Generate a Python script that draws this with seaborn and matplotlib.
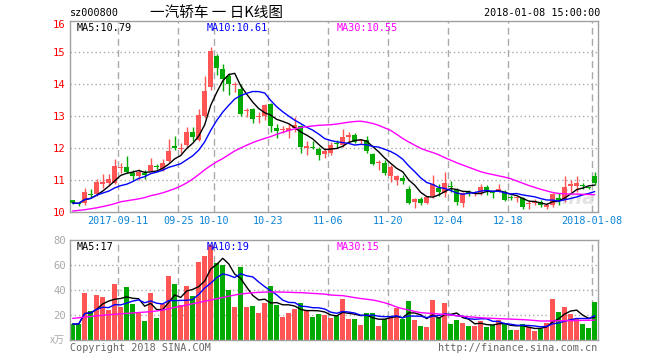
import numpy as np
import pandas as pd
import matplotlib
matplotlib.use("Agg")
import matplotlib.pyplot as plt
import seaborn as sns

# ---------------- data ----------------
opens = [10.37, 10.29, 10.30, 10.58, 10.57, 10.90, 10.91, 10.91, 11.38, 11.42,
         11.24, 11.12, 11.24, 11.30, 11.45, 11.33, 11.60, 12.07, 11.97, 12.10,
         12.52, 12.27, 13.02, 13.93, 14.90, 14.48, 14.26, 13.97, 13.87, 13.17,
         13.23, 12.97, 13.02, 13.38, 12.63, 12.56, 12.55, 12.63, 12.70, 12.02,
         12.05, 11.97, 11.81, 11.87, 12.17, 12.12, 12.37, 12.43, 12.22, 12.26,
         11.82, 11.54, 11.53, 11.14, 11.01, 11.06, 10.73, 10.33, 10.42, 10.30,
         10.50, 10.76, 10.60, 10.81, 10.70, 10.30, 10.62, 10.58, 10.61, 10.80,
         10.62, 10.68, 10.65, 10.47, 10.44, 10.44, 10.27, 10.28, 10.33, 10.18,
         10.23, 10.42, 10.41, 10.82, 10.82, 10.86, 10.77, 11.14]
highs = [10.38, 10.30, 10.76, 10.73, 11.03, 11.20, 11.20, 11.67, 11.55, 11.76,
         11.33, 11.36, 11.32, 11.70, 11.51, 11.66, 12.30, 12.39, 12.18, 12.66,
         12.67, 13.23, 14.26, 15.16, 14.95, 14.64, 14.35, 14.07, 14.01, 13.27,
         13.25, 13.15, 13.38, 13.43, 12.76, 12.70, 12.80, 12.97, 12.73, 12.24,
         12.22, 12.05, 12.00, 12.20, 12.27, 12.62, 12.52, 12.49, 12.30, 12.38,
         11.84, 11.64, 11.63, 11.48, 11.17, 11.17, 10.82, 10.44, 10.47, 10.51,
         11.17, 10.89, 11.26, 10.99, 10.75, 10.62, 10.70, 10.68, 10.87, 10.85,
         10.66, 10.90, 10.70, 10.54, 10.49, 10.49, 10.36, 10.41, 10.39, 10.30,
         10.59, 10.61, 11.13, 11.01, 11.13, 10.91, 10.79, 11.26]
lows = [10.26, 10.21, 10.22, 10.48, 10.50, 10.75, 10.82, 10.90, 11.22, 11.22,
        11.00, 11.02, 11.03, 11.28, 11.34, 11.30, 11.58, 11.95, 11.86, 12.03,
        12.22, 12.22, 12.95, 13.82, 14.29, 13.80, 13.67, 13.77, 13.01, 12.97,
        12.78, 12.80, 12.88, 12.52, 12.31, 12.49, 12.33, 12.52, 11.84, 11.80,
        11.97, 11.65, 11.69, 11.80, 12.00, 12.05, 12.21, 12.18, 12.15, 11.84,
        11.48, 11.32, 11.16, 10.96, 10.86, 10.88, 10.25, 10.12, 10.22, 10.26,
        10.44, 10.52, 10.49, 10.65, 10.23, 10.18, 10.50, 10.52, 10.55, 10.54,
        10.44, 10.64, 10.34, 10.38, 10.33, 10.10, 10.09, 10.23, 10.18, 10.10,
        10.18, 10.23, 10.33, 10.65, 10.64, 10.74, 10.72, 10.85]
closes = [10.29, 10.27, 10.63, 10.55, 10.94, 10.93, 11.03, 11.46, 11.41, 11.27,
          11.12, 11.27, 11.18, 11.48, 11.41, 11.54, 11.92, 12.01, 12.00, 12.51,
          12.35, 13.04, 13.79, 15.04, 14.52, 14.16, 14.02, 14.00, 13.09, 13.21,
          12.92, 13.01, 13.35, 12.71, 12.55, 12.60, 12.65, 12.73, 12.03, 12.06,
          12.01, 11.79, 11.92, 12.12, 12.14, 12.36, 12.39, 12.21, 12.25, 11.92,
          11.51, 11.57, 11.24, 11.42, 11.13, 10.98, 10.30, 10.41, 10.30, 10.47,
          10.89, 10.65, 10.91, 10.79, 10.33, 10.60, 10.60, 10.62, 10.78, 10.67,
          10.60, 10.71, 10.39, 10.45, 10.46, 10.16, 10.29, 10.33, 10.23, 10.23,
          10.57, 10.40, 10.80, 10.87, 10.91, 10.81, 10.75, 10.91]
volumes = [12.8, 12.8, 37.9, 23.2, 36.0, 34.4, 24.3, 45.0, 26.4, 42.4,
           28.8, 22.4, 15.2, 37.6, 17.6, 28.8, 51.2, 44.8, 28.0, 43.2,
           35.2, 62.4, 67.2, 76.0, 61.3, 60.0, 40.0, 26.4, 58.4, 26.4,
           27.2, 21.6, 29.6, 43.2, 28.0, 18.4, 21.6, 24.8, 29.6, 23.2,
           18.4, 20.8, 20.0, 17.9, 19.2, 32.8, 16.8, 16.8, 12.0, 21.6,
           21.6, 11.2, 16.8, 18.4, 25.6, 16.8, 31.2, 16.0, 11.2, 10.4,
           32.0, 17.6, 29.6, 12.8, 16.0, 13.6, 11.2, 11.2, 15.2, 10.4,
           12.0, 16.0, 12.5, 8.0, 8.0, 12.8, 10.1, 7.2, 8.5, 13.9,
           32.8, 22.4, 26.4, 20.5, 17.3, 12.8, 9.6, 30.4]
price_ma30 = [10.04, 10.06, 10.08, 10.11, 10.14, 10.18, 10.22, 10.27, 10.33, 10.36,
              10.39, 10.42, 10.46, 10.52, 10.56, 10.61, 10.67, 10.74, 10.82, 10.92,
              11.04, 11.18, 11.33, 11.46, 11.58, 11.68, 11.80, 11.92, 12.01, 12.10,
              12.18, 12.25, 12.31, 12.37, 12.44, 12.50, 12.56, 12.61, 12.65, 12.68,
              12.70, 12.72, 12.73, 12.74, 12.76, 12.79, 12.82, 12.84, 12.85, 12.82,
              12.78, 12.72, 12.64, 12.56, 12.44, 12.31, 12.20, 12.10, 12.00, 11.93,
              11.87, 11.80, 11.71, 11.63, 11.55, 11.48, 11.41, 11.34, 11.27, 11.22,
              11.18, 11.14, 11.10, 11.05, 10.98, 10.91, 10.84, 10.78, 10.72, 10.67,
              10.62, 10.59, 10.58, 10.57, 10.57, 10.56, 10.56, 10.55]
vol_ma30 = [17.3, 17.8, 18.3, 18.8, 19.3, 19.8, 20.2, 20.6, 21.0, 21.3,
            21.6, 22.0, 22.3, 22.7, 23.2, 24.0, 25.0, 26.0, 27.0, 28.0,
            29.0, 30.0, 31.0, 32.0, 33.0, 34.0, 35.0, 36.0, 36.8, 37.3,
            37.8, 38.1, 38.3, 38.4, 38.4, 38.3, 38.2, 38.0, 37.9, 37.6,
            37.3, 37.0, 36.7, 36.0, 35.7, 35.5, 34.7, 33.9, 33.2, 32.6,
            32.0, 31.0, 29.8, 28.2, 26.4, 25.0, 24.0, 22.8, 21.9, 21.5,
            21.2, 20.8, 20.4, 20.0, 19.5, 19.0, 18.6, 18.2, 17.8, 17.5,
            17.3, 17.1, 16.9, 16.7, 16.5, 16.3, 16.0, 15.6, 15.2, 15.2,
            15.3, 15.4, 15.5, 15.5, 15.6, 15.7, 15.8, 15.9]
date_labels = ["2017-09-11", "09-25", "10-10", "10-23", "11-06", "11-20",
               "12-04", "12-18", "2018-01-08"]
date_index = [8, 18, 24, 33, 43, 53, 63, 73, 87]
price_ticks = [10, 11, 12, 13, 14, 15, 16]
vol_ticks = [20, 40, 60, 80]

# ---------------- style ----------------
sns.set_style("white")
plt.rcParams['font.family'] = ['DejaVu Sans Mono', 'Noto Sans CJK SC']

RED = '#ff5555'
GREEN = '#00aa00'
GRID = '#aaaaaa'
SPINE = '#a0a0a0'
DATE_C = '#0a84d6'

df = pd.DataFrame({'o': opens, 'h': highs, 'l': lows, 'c': closes, 'v': volumes,
                   'ma30': price_ma30, 'vma30': vol_ma30})
df['i'] = np.arange(len(df))
df['up'] = np.where(df['c'] >= df['o'], 'up', 'down')
df['ma5'] = df['c'].rolling(5, min_periods=1).mean()
df['ma10'] = df['c'].rolling(10, min_periods=1).mean()
df['vma5'] = df['v'].rolling(5, min_periods=1).mean()
df['vma10'] = df['v'].rolling(10, min_periods=1).mean()
colors = np.where(df['up'] == 'up', RED, GREEN)

W, H = 660, 360
fig = plt.figure(figsize=(6.6, 3.6), dpi=100)
fig.patch.set_facecolor('white')

def rect(x0, y0, x1, y1):
    return [x0 / W, 1 - y1 / H, (x1 - x0) / W, (y1 - y0) / H]

ax = fig.add_axes(rect(70, 20.5, 597.7, 212.3))
ax2 = fig.add_axes(rect(70, 240, 597.7, 340))
xlim = (-0.45, 87.5)

for a in (ax, ax2):
    a.set_xlim(*xlim)
    for s in a.spines.values():
        s.set_color(SPINE)
        s.set_linewidth(1)
    for di in date_index:
        a.axvline(di - 0.4, color=GRID, lw=1, ls=(0, (5, 3)), zorder=0)
    a.tick_params(length=0)

# ---- price panel ----
ax.set_ylim(10, 16)
for t in price_ticks[1:-1]:
    ax.axhline(t, color=GRID, lw=1, ls=(0, (1, 2)), zorder=0)

ax.vlines(df['i'], df['l'], df['h'], colors=colors, lw=1, zorder=2)
body_lo = np.minimum(df['o'], df['c'])
body_h = np.maximum(np.abs(df['c'] - df['o']), 0.035)
ax.bar(df['i'], body_h, bottom=body_lo, width=0.83, color=colors, lw=0, zorder=3)

sns.lineplot(data=df, x='i', y='ma5', color='black', lw=1, ax=ax, zorder=4)
sns.lineplot(data=df, x='i', y='ma10', color='#0000ff', lw=1, ax=ax, zorder=4)
sns.lineplot(data=df, x='i', y='ma30', color='#ff00ff', lw=1, ax=ax, zorder=4)

ax.set_yticks(price_ticks)
ax.set_yticklabels([str(t) for t in price_ticks], color='#ff0000', fontsize=7.6)
ax.get_yticklabels()[-1].set_va('top')
ax.tick_params(axis='y', pad=3)
ax.set_xticks([d - 0.4 for d in date_index])
ax.set_xticklabels(date_labels, color=DATE_C, fontsize=7.3)
ax.tick_params(axis='x', pad=3)
ax.set_xlabel('')
ax.set_ylabel('')

ax.text(0.6, 15.77, 'MA5:10.79', color='black', fontsize=7.3, va='center')
ax.text(22.3, 15.77, 'MA10:10.61', color='#0000ff', fontsize=7.3, va='center')
ax.text(44.0, 15.77, 'MA30:10.55', color='#ff00ff', fontsize=7.3, va='center')
ax.text(87.2, 10.42, 'sina', color='#dcdcdc', fontsize=14, fontstyle='italic',
        fontweight='bold', ha='right', va='center', family='DejaVu Sans',
        alpha=0.8, zorder=1)

# ---- volume panel ----
ax2.set_ylim(0, 80)
for t in vol_ticks[:-1]:
    ax2.axhline(t, color=GRID, lw=1, ls=(0, (1, 2)), zorder=0)
sns.barplot(data=df, x='i', y='v', hue='up', palette={'up': RED, 'down': GREEN},
            native_scale=True, width=0.83, dodge=False, saturation=1,
            errorbar=None, linewidth=0, legend=False, ax=ax2, zorder=2)
ax2.set_xlim(*xlim)
sns.lineplot(data=df, x='i', y='vma5', color='black', lw=1, ax=ax2, zorder=4)
sns.lineplot(data=df, x='i', y='vma10', color='#0000ff', lw=1, ax=ax2, zorder=4)
sns.lineplot(data=df, x='i', y='vma30', color='#ff00ff', lw=1, ax=ax2, zorder=4)
ax2.set_yticks(vol_ticks)
ax2.set_yticklabels([str(t) for t in vol_ticks], color='#aaaaaa', fontsize=7.6)
ax2.tick_params(axis='y', pad=3)
ax2.set_xticks([])
ax2.set_xlabel('')
ax2.set_ylabel('')
ax2.text(0.6, 74.5, 'MA5:17', color='black', fontsize=7.3, va='center')
ax2.text(22.3, 74.5, 'MA10:19', color='#0000ff', fontsize=7.3, va='center')
ax2.text(44.0, 74.5, 'MA30:15', color='#ff00ff', fontsize=7.3, va='center')

# ---- figure texts ----
def ftext(x, y, s, **kw):
    fig.text(x / W, 1 - y / H, s, **kw)

ftext(70, 13, 'sz000800', color='black', fontsize=7.3, va='center')
ftext(150, 13, '一汽轿车 一 日K线图', color='black', fontsize=10.5,
      va='center', family=['Noto Sans CJK SC', 'DejaVu Sans'])
ftext(600, 13, '2018-01-08 15:00:00', color='black', fontsize=7.3,
      va='center', ha='right')
ftext(50, 340, 'x万', color='#aaaaaa', fontsize=7.3, va='center',
      family=['Noto Sans CJK SC', 'DejaVu Sans'])
ftext(70, 348, 'Copyright 2018 SINA.COM', color='#666666', fontsize=7.3, va='center')
ftext(597.7, 348, 'http://finance.sina.com.cn', color='#666666', fontsize=7.3,
      va='center', ha='right')

fig.savefig('out.png', dpi=100, facecolor='white')
